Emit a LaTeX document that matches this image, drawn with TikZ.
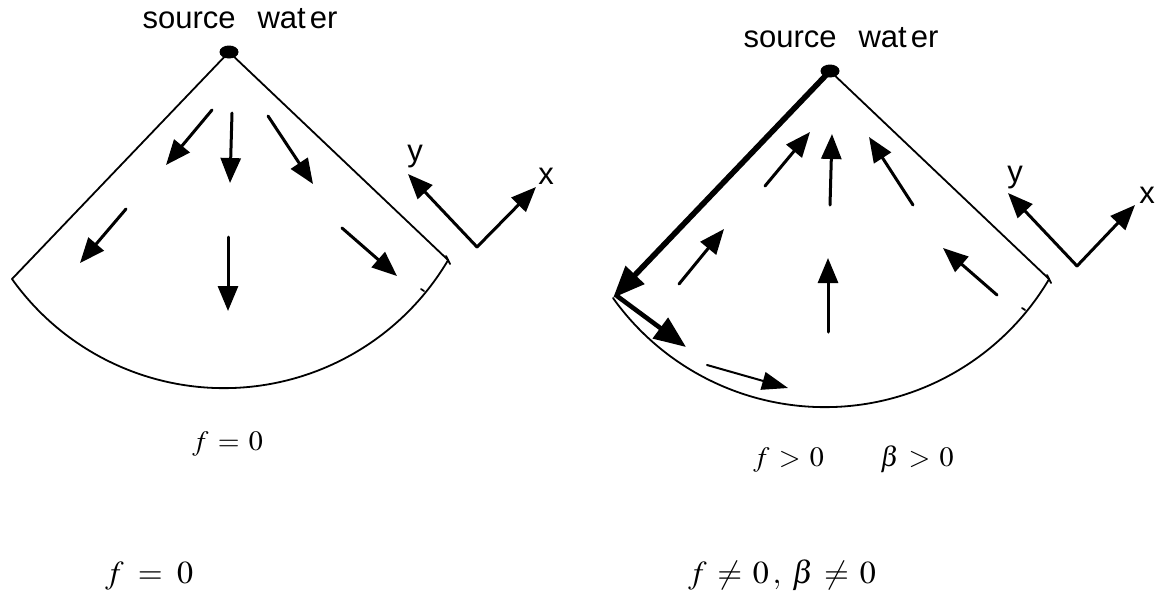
\documentclass[tikz,border=0pt]{standalone}
\usepackage{mathptmx}
\usepackage[no-math]{fontspec}
\newfontfamily\labfont{Liberation Sans}
\usetikzlibrary{arrows.meta}

\begin{document}
\begin{tikzpicture}[x=0.5pt,y=0.5pt,line cap=round,line join=round,
  rim/.style={line width=0.9pt},
  flow/.style={line width=1.5pt,-{Triangle[length=12.5pt,width=10pt]}},
  heavy/.style={line width=2.8pt,-{Triangle[length=16pt,width=12.5pt]}},
  thinflow/.style={line width=1pt,-{Triangle[length=13pt,width=9pt]}},
  lab/.style={inner sep=0pt,font=\labfont\fontsize{15.5}{18}\selectfont},
  eq/.style={inner sep=0pt,anchor=base west,font=\fontsize{14}{17}\selectfont},
  bigeq/.style={inner sep=0pt,anchor=base west,font=\fontsize{16}{19}\selectfont}]
  \useasboundingbox (0,0) rectangle (1159,-594);

  % f = 0 : outflow from the source
  \coordinate (apexL) at (229,-52);
  \coordinate (cornerL) at (12,-279);
  \coordinate (endL) at (448,-260);
  \draw[rim] (cornerL) -- (apexL) -- (endL);
  \draw[rim] (cornerL) arc[start angle=215.5,end angle=329.5,radius=130.15pt];
  \draw[rim] (446,-256) -- (450,-264);
  \draw[rim] (421,-289) -- (424,-291);
  \fill (apexL) ellipse[x radius=4.75pt,y radius=3.25pt];
  \node[lab,anchor=base] (srcL) at (240,-28) {source\hspace{11pt}wat\hspace{2pt}er};
  \draw[flow] (212,-110) -- (166,-165);
  \draw[flow] (232,-113) -- (230,-183);
  \draw[flow] (268,-116) -- (313,-184);
  \draw[flow] (126,-209) -- (80,-263);
  \draw[flow] (228,-237) -- (228,-311);
  \draw[flow] (342,-228) -- (397,-276);
  \coordinate (oL) at (477,-247);
  \draw[flow] (oL) -- (408,-174);
  \draw[flow] (oL) -- (536,-187);
  \node[lab] (yL) at (415,-157) {y};
  \node[lab] (xL) at (546,-176) {x};
  \node[eq] (fL) at (192,-450) {$f\,=\,0$};

  % f > 0, beta > 0 : inflow and boundary current
  \coordinate (apexR) at (830,-71);
  \coordinate (cornerR) at (613,-298);
  \coordinate (endR) at (1049,-279);
  \draw[rim] (apexR) -- (endR);
  \draw[rim] (cornerR) arc[start angle=215.5,end angle=329.5,radius=130.15pt];
  \draw[rim] (1047,-275) -- (1051,-283);
  \draw[rim] (1022,-308) -- (1025,-310);
  \draw[heavy] (apexR) -- (cornerR);
  \fill (apexR) ellipse[x radius=4.75pt,y radius=3.25pt];
  \node[lab,anchor=base] (srcR) at (841,-47) {source\hspace{11pt}wat\hspace{2pt}er};
  \draw[heavy,line width=2.3pt] (617,-296) -- (686,-347);
  \draw[thinflow] (707,-365) -- (788,-388);
  \draw[flow] (765,-186) -- (810,-132);
  \draw[flow] (830,-205) -- (832,-134);
  \draw[flow] (913,-205) -- (869,-137);
  \draw[flow] (679,-284) -- (724,-229);
  \draw[flow] (828,-332) -- (828,-258);
  \draw[flow] (997,-295) -- (943,-248);
  \coordinate (oR) at (1077,-266);
  \draw[flow] (oR) -- (1008,-193);
  \draw[flow] (oR) -- (1135,-205);
  \node[lab] (yR) at (1015,-178) {y};
  \node[lab] (xR) at (1147,-195) {x};
  \node[eq] (fR) at (753,-466) {$f\,>\,0$};
  \node[eq] (bR) at (880,-466) {$\beta\,>\,0$};

  % captions
  \node[bigeq] (capL) at (105,-583) {$f\;=\;0$};
  \node[bigeq] (capR) at (688,-583) {$f\,\neq\,0\,,\;\beta\,\neq\,0$};
\end{tikzpicture}
\end{document}
